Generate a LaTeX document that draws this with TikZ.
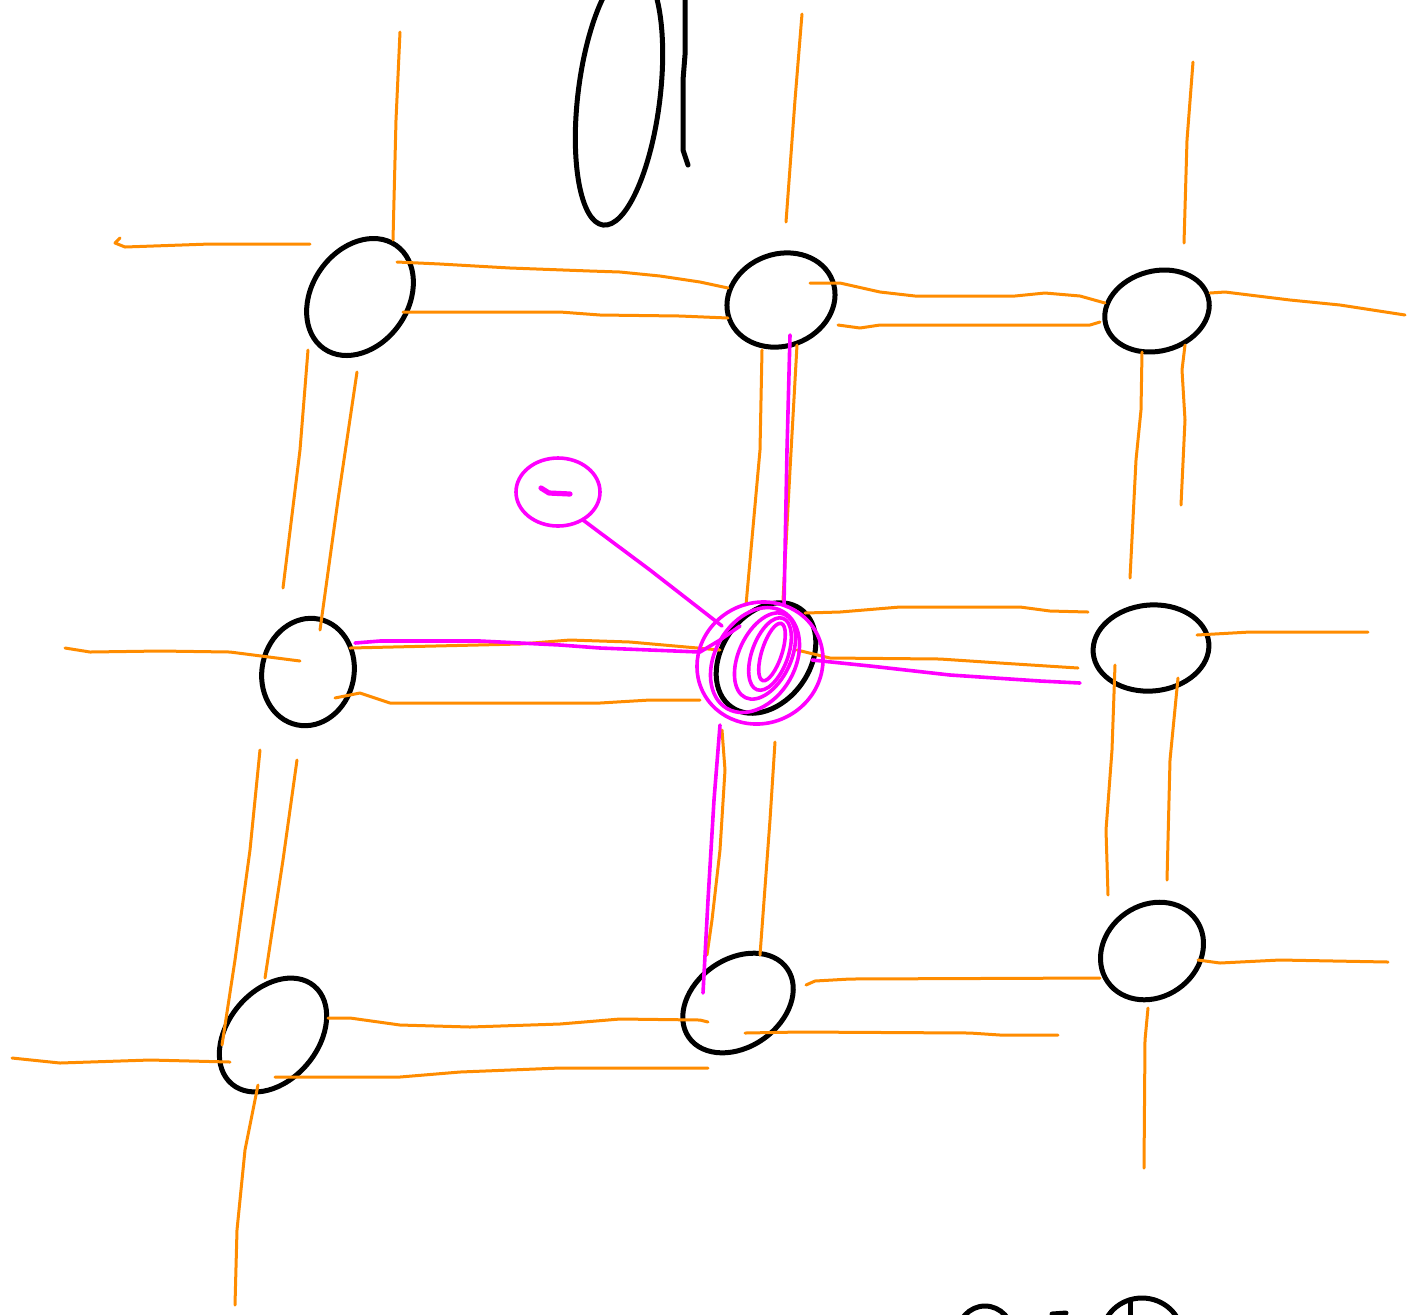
\documentclass[tikz,border=0pt]{standalone}
\usetikzlibrary{shapes.geometric}
\definecolor{penorange}{RGB}{255,140,0}
\definecolor{penmag}{RGB}{255,0,255}
\tikzset{
  blob/.style={draw=black, line width=2.5pt, ellipse, inner sep=0pt},
  org/.style={draw=penorange, line width=1.5pt, line cap=round, line join=round},
  mag/.style={draw=penmag, line width=1.8pt, line cap=round, line join=round},
  magblob/.style={draw=penmag, line width=1.8pt, ellipse, inner sep=0pt},
  ink/.style={draw=black, line width=2.5pt, line cap=round, line join=round}
}
\begin{document}
\begin{tikzpicture}[x=0.5pt,y=-0.5pt]
\useasboundingbox (0,0) rectangle (1408,1314);
\fill[white] (0,0) rectangle (1408,1314);
\clip (0,0) rectangle (1408,1314);

% ---- the "01" at the top ----
\node[blob, minimum width=41pt, minimum height=130pt, rotate=-7] (zero) at (619,96) {};
\draw[ink] (685,0) -- (685,55) -- (683,80) -- (683,150) -- (688,165);

% ---- black nodes ----
\node[blob, minimum width=63pt, minimum height=48pt, rotate=55] (A) at (360,297) {};
\node[blob, minimum width=55pt, minimum height=46pt, rotate=20] (B) at (781,300) {};
\node[blob, minimum width=53pt, minimum height=40pt, rotate=15] (C) at (1157,311) {};
\node[blob, minimum width=54pt, minimum height=46pt, rotate=78] (D) at (308,672) {};
\node[blob, minimum width=60pt, minimum height=44pt, rotate=55] (E) at (766,658) {};
\node[blob, minimum width=58pt, minimum height=43pt, rotate=5] (F) at (1151,648) {};
\node[blob, minimum width=54pt, minimum height=46pt, rotate=35] (G) at (1152,951) {};
\node[blob, minimum width=60pt, minimum height=44pt, rotate=35] (H) at (738,1003) {};
\node[blob, minimum width=64pt, minimum height=45pt, rotate=50] (I) at (273,1035) {};
% partial shapes at the bottom edge
\node[blob, minimum width=28pt, minimum height=30pt] (J) at (985,1336) {};
\node[blob, minimum width=40pt, minimum height=38pt] (K) at (1142,1336) {};
\draw[ink] (1130,1300) -- (1130,1316);
\draw[ink] (1052,1314) -- (1066,1313);

% ---- orange double lines ----
\draw[org] (120,238) -- (115,243) -- (125,247) -- (210,244) -- (310,244);
\draw[org] (400,32) -- (396,120) -- (393,240);
\draw[org] (397,262) -- (440,264) -- (510,268) -- (590,271) -- (620,272) -- (660,276) -- (700,282) -- (728,288);
\draw[org] (403,312) -- (560,312) -- (600,315) -- (680,316) -- (728,318);
\draw[org] (802,14) -- (795,100) -- (786,222);
\draw[org] (810,283) -- (840,283) -- (880,292) -- (915,296) -- (1015,296) -- (1045,293) -- (1080,296) -- (1105,303);
\draw[org] (838,325) -- (860,328) -- (880,325) -- (1090,325) -- (1100,322);
\draw[org] (1210,293) -- (1225,292) -- (1290,300) -- (1340,305) -- (1405,315);
\draw[org] (1193,62) -- (1187,140) -- (1184,243);
\draw[org] (1142,352) -- (1141,410) -- (1136,460) -- (1130,578);
\draw[org] (1185,345) -- (1182,370) -- (1185,420) -- (1181,505);
\draw[org] (308,350) -- (300,450) -- (283,588);
\draw[org] (357,372) -- (338,500) -- (320,630);
\draw[org] (762,350) -- (760,450) -- (746,605);
\draw[org] (797,345) -- (790,470) -- (783,600);
\draw[org] (65,648) -- (90,652) -- (160,651) -- (230,652) -- (300,661);
\draw[org] (350,648) -- (520,644) -- (570,640) -- (630,642) -- (720,650);
\draw[org] (335,698) -- (360,693) -- (390,703) -- (600,703) -- (650,700) -- (700,700);
\draw[org] (805,613) -- (840,612) -- (900,607) -- (1020,607) -- (1050,611) -- (1088,612);
\draw[org] (797,650) -- (830,658) -- (940,659) -- (1000,663) -- (1078,668);
\draw[org] (1197,635) -- (1250,632) -- (1368,632);
\draw[org] (260,750) -- (250,850) -- (235,960) -- (222,1045);
\draw[org] (297,760) -- (283,860) -- (265,978);
\draw[org] (722,730) -- (725,770) -- (720,850) -- (712,920) -- (707,955);
\draw[org] (775,742) -- (770,820) -- (760,955);
\draw[org] (1115,665) -- (1112,750) -- (1106,830) -- (1108,895);
\draw[org] (1178,678) -- (1170,760) -- (1167,880);
\draw[org] (1198,960) -- (1220,963) -- (1280,960) -- (1388,962);
\draw[org] (1148,1008) -- (1145,1040) -- (1144,1168);
\draw[org] (806,985) -- (815,981) -- (850,979) -- (1100,978);
\draw[org] (745,1033) -- (800,1032) -- (970,1033) -- (1000,1035) -- (1058,1035);
\draw[org] (328,1018) -- (350,1018) -- (400,1025) -- (470,1027) -- (560,1024) -- (620,1019) -- (700,1020) -- (708,1022);
\draw[org] (275,1077) -- (400,1077) -- (460,1072) -- (560,1068) -- (708,1068);
\draw[org] (12,1058) -- (60,1063) -- (150,1060) -- (230,1062);
\draw[org] (258,1085) -- (245,1150) -- (237,1230) -- (235,1305);

% ---- magenta highlight ----
\node[magblob, minimum width=42pt, minimum height=34pt] (lbl) at (558,492) {};
\draw[mag, line width=2.6pt] (541,488) -- (549,493) -- (570,494);
\draw[mag] (583,520) -- (650,570) -- (722,626);
\draw[mag] (355,643) -- (380,641) -- (480,641) -- (560,645) -- (600,648) -- (700,652) -- (720,640) -- (740,626);
\draw[mag] (790,335) -- (787,450) -- (784,605);
\draw[mag] (812,660) -- (870,666) -- (950,675) -- (1040,681) -- (1080,683);
\draw[mag] (720,725) -- (714,800) -- (708,900) -- (703,993);
\node[magblob, minimum width=64pt, minimum height=60pt, rotate=30] (Eo) at (760,663) {};
\node[magblob, minimum width=56pt, minimum height=40pt, rotate=60] (E1) at (755,660) {};
\node[magblob, minimum width=46pt, minimum height=26pt, rotate=65] (E2) at (765,656) {};
\node[magblob, minimum width=38pt, minimum height=18pt, rotate=70] (E3) at (770,654) {};
\node[magblob, minimum width=30pt, minimum height=10pt, rotate=72] (E4) at (772,652) {};
\end{tikzpicture}
\end{document}
